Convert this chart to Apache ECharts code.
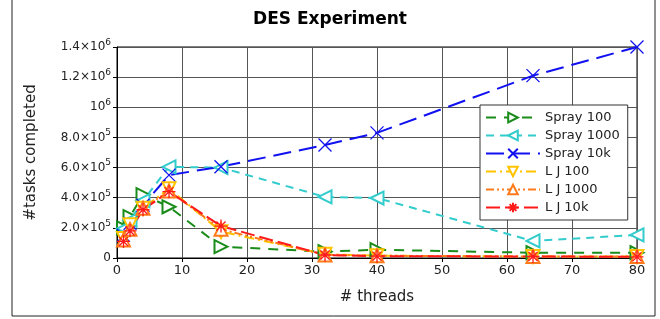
<!DOCTYPE html>
<html>
<head>
<meta charset="utf-8">
<script src="https://cdn.jsdelivr.net/npm/echarts@6/dist/echarts.min.js"></script>
<style>
  html, body { margin: 0; padding: 0; background: #fff; }
  #chart { width: 660px; height: 319px; }
</style>
</head>
<body>
<div id="chart"></div>
<script>
// x values (threads)
const threads = [1, 2, 4, 8, 16, 32, 40, 64, 80]
// tasks completed per series
const spray100 = [200000, 275000, 420000, 340000, 75000, 42000, 55000, 35000, 35000]
const spray1000 = [195000, 250000, 380000, 605000, 600000, 405000, 398000, 113000, 153000]
const spray10k = [150000, 230000, 350000, 550000, 606000, 750000, 830000, 1210000, 1400000]
const lj100 = [130000, 220000, 330000, 460000, 175000, 25000, 15000, 10000, 10000]
const lj1000 = [120000, 190000, 330000, 445000, 190000, 20000, 15000, 10000, 10000]
const lj10k = [110000, 180000, 320000, 440000, 212000, 20000, 12000, 10000, 8000]

const pairs = (ys) => threads.map((x, i) => [x, ys[i]])

const xMark = 'path://M0,0L10,10M10,0L0,10'
const starMark = 'path://M5,0L5,10M0,5L10,5M1.5,1.5L8.5,8.5M8.5,1.5L1.5,8.5'

function mkSeries (name, data, color, dash, symbol, rotate, stroke) {
  return {
    name: name,
    type: 'line',
    data: pairs(data),
    symbol: symbol,
    symbolSize: 13,
    symbolRotate: rotate,
    lineStyle: { color: color, width: 2, type: dash },
    itemStyle: stroke
      ? { color: color, borderColor: color, borderWidth: 1.3 }
      : { color: color, borderWidth: 1.2 }
  }
}

function yLabel (v) {
  if (v === 0) return '0'
  const exp = Math.floor(Math.log10(v) + 1e-9)
  const m = v / Math.pow(10, exp)
  if (Math.abs(m - 1) < 1e-9) return '10{sup|' + exp + '}'
  return m.toFixed(1) + '×10{sup|' + exp + '}'
}

const chart = echarts.init(document.getElementById('chart'))
const option = {
  animation: false,
  title: {
    text: 'DES Experiment',
    left: 'center',
    top: 6,
    textStyle: { fontSize: 17, fontWeight: 'bold', color: '#000', fontFamily: 'DejaVu Sans' }
  },
  graphic: [{
    type: 'rect',
    shape: { x: 12, y: -5, width: 643, height: 321 },
    style: { fill: 'none', stroke: '#222', lineWidth: 1 },
    silent: true
  }],
  grid: {
    left: 117, right: 23, top: 47, bottom: 61,
    show: true, borderColor: '#000', borderWidth: 1, backgroundColor: 'transparent'
  },
  legend: {
    orient: 'vertical',
    left: 480,
    top: 105,
    padding: [6, 8, 6, 5],
    itemWidth: 54,
    itemHeight: 12,
    itemGap: 5,
    backgroundColor: '#fff',
    borderColor: '#333',
    borderWidth: 1,
    textStyle: { fontSize: 13, color: '#222', fontFamily: 'DejaVu Sans' }
  },
  xAxis: {
    type: 'value',
    min: 0,
    max: 80,
    interval: 10,
    name: '# threads',
    nameLocation: 'middle',
    nameGap: 32,
    nameTextStyle: { fontSize: 15, color: '#222', fontFamily: 'DejaVu Sans' },
    axisLine: { lineStyle: { color: '#000' } },
    axisTick: { length: 4, lineStyle: { color: '#000' } },
    axisLabel: { fontSize: 13, color: '#222', margin: 6, fontFamily: 'DejaVu Sans' },
    splitLine: { lineStyle: { color: '#555', width: 1 } }
  },
  yAxis: {
    type: 'value',
    min: 0,
    max: 1400000,
    interval: 200000,
    name: '#tasks completed',
    nameLocation: 'middle',
    nameGap: 78,
    nameTextStyle: { fontSize: 15, color: '#222', fontFamily: 'DejaVu Sans' },
    axisLine: { show: true, lineStyle: { color: '#000' } },
    axisTick: { show: true, length: 4, lineStyle: { color: '#000' } },
    axisLabel: {
      fontSize: 12,
      color: '#222',
      margin: 6,
      fontFamily: 'DejaVu Sans',
      formatter: yLabel,
      rich: {
        sup: { fontSize: 9, padding: [0, 0, 9, 0], color: '#222', fontFamily: 'DejaVu Sans' }
      }
    },
    splitLine: { lineStyle: { color: '#555', width: 1 } }
  },
  series: [
    mkSeries('Spray 100', spray100, '#1a8c1a', [10, 8], 'emptyTriangle', -90, false),
    mkSeries('Spray 1000', spray1000, '#33cccc', [8, 6], 'emptyTriangle', 90, false),
    mkSeries('Spray 10k', spray10k, '#1010f0', [18, 8], xMark, 0, true),
    mkSeries('L J 100', lj100, '#ffc400', [10, 4, 2, 4], 'emptyTriangle', 180, false),
    mkSeries('L J 1000', lj1000, '#ff7a1a', [8, 3, 2, 3, 2, 3], 'emptyTriangle', 0, false),
    mkSeries('L J 10k', lj10k, '#ff1a1a', [14, 5], starMark, 0, true)
  ]
}
chart.setOption(option)
</script>
</body>
</html>
